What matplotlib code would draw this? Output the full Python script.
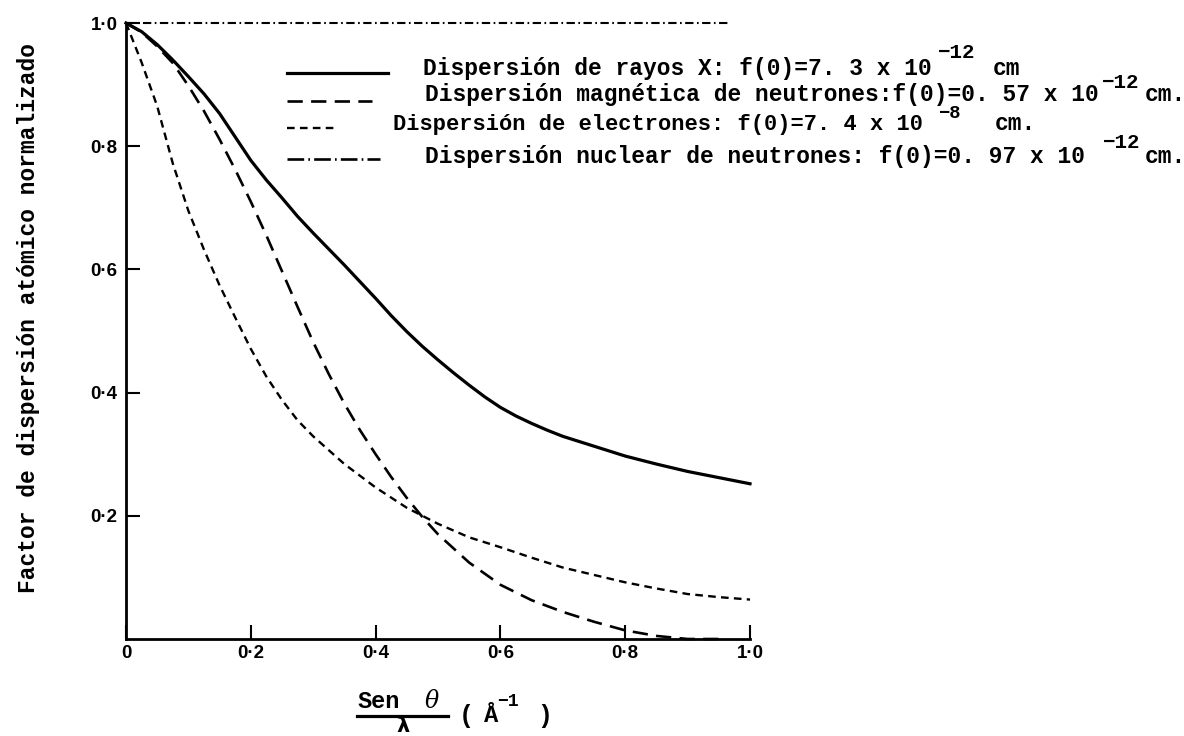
import matplotlib
matplotlib.use("Agg")
import matplotlib.pyplot as plt
from matplotlib.lines import Line2D

# --- data: normalised atomic scattering factor vs sin(theta)/lambda (1/Angstrom) ---
s_rayos = [0.000, 0.025, 0.050, 0.075, 0.100, 0.125, 0.150, 0.175, 0.200, 0.225,
           0.250, 0.275, 0.300, 0.325, 0.350, 0.375, 0.400, 0.425, 0.450, 0.475,
           0.500, 0.525, 0.550, 0.575, 0.600, 0.625, 0.650, 0.675, 0.700, 0.750,
           0.800, 0.850, 0.900, 0.950, 1.000]
f_rayos = [1.000, 0.986, 0.965, 0.940, 0.913, 0.885, 0.853, 0.815, 0.777, 0.745,
           0.716, 0.686, 0.659, 0.633, 0.607, 0.580, 0.553, 0.525, 0.499, 0.475,
           0.453, 0.432, 0.412, 0.393, 0.376, 0.362, 0.350, 0.339, 0.329, 0.313,
           0.297, 0.284, 0.272, 0.262, 0.252]

s_magnetica = [0.000, 0.025, 0.050, 0.075, 0.100, 0.125, 0.150, 0.175, 0.200, 0.225,
               0.250, 0.275, 0.300, 0.325, 0.350, 0.375, 0.400, 0.425, 0.450, 0.475,
               0.500, 0.550, 0.600, 0.650, 0.700, 0.750, 0.800, 0.850, 0.900, 0.950]
f_magnetica = [1.000, 0.985, 0.962, 0.935, 0.898, 0.857, 0.811, 0.762, 0.710, 0.655,
               0.597, 0.539, 0.482, 0.430, 0.382, 0.339, 0.300, 0.263, 0.229, 0.198,
               0.170, 0.124, 0.088, 0.063, 0.044, 0.028, 0.014, 0.005, 0.000, 0.000]

s_electrones = [0.000, 0.025, 0.050, 0.075, 0.100, 0.125, 0.150, 0.175, 0.200, 0.225,
                0.250, 0.275, 0.30, 0.35, 0.40, 0.45, 0.50, 0.55, 0.60, 0.65, 0.70,
                0.75, 0.80, 0.85, 0.90, 0.95, 1.00]
f_electrones = [1.000, 0.936, 0.865, 0.772, 0.695, 0.632, 0.574, 0.522, 0.471, 0.426,
                0.388, 0.355, 0.329, 0.284, 0.246, 0.213, 0.187, 0.165, 0.149, 0.132,
                0.116, 0.104, 0.092, 0.082, 0.073, 0.068, 0.064]

s_nuclear = [0.0, 0.965]
f_nuclear = [1.0, 1.0]

x_ticks = [0.0, 0.2, 0.4, 0.6, 0.8, 1.0]
x_ticklabels = ["0", "0·2", "0·4", "0·6", "0·8", "1·0"]
y_ticks = [0.2, 0.4, 0.6, 0.8, 1.0]
y_ticklabels = ["0·2", "0·4", "0·6", "0·8", "1·0"]

leyenda = ["Dispersión de rayos X: f(0)=7. 3 x 10",
           "Dispersión magnética de neutrones:f(0)=0. 57 x 10",
           "Dispersión de electrones: f(0)=7. 4 x 10",
           "Dispersión nuclear de neutrones: f(0)=0. 97 x 10"]
exponentes = ["−12", "−12", "−8", "−12"]
unidades = ["cm", "cm.", "cm.", "cm."]

# --- styling ---
plt.rcParams['lines.scale_dashes'] = False
MONO = ['Liberation Mono', 'DejaVu Sans Mono']
NARROW = ['Liberation Sans Narrow', 'Liberation Sans', 'DejaVu Sans']

W, H, DPI = 1184, 736, 100


def fx(px):
    return px / W


def fy(py):
    return 1.0 - py / H


styles = {
    'rayos': dict(color='black', lw=2.3, ls='-'),
    'magnetica': dict(color='black', lw=1.9, ls=(0, (11, 6))),
    'electrones': dict(color='black', lw=1.7, ls=(0, (5.5, 3.8))),
    'nuclear': dict(color='black', lw=1.5, ls=(0, (6, 2.5, 1.2, 2.5))),
}

fig = plt.figure(figsize=(W / DPI, H / DPI), dpi=DPI)
ax = fig.add_axes([fx(126), fy(639), 624 / W, 616 / H])

ax.plot(s_rayos, f_rayos, clip_on=False, solid_joinstyle='round', **styles['rayos'])
ax.plot(s_magnetica, f_magnetica, clip_on=False, **styles['magnetica'])
ax.plot(s_electrones, f_electrones, clip_on=False, **styles['electrones'])
ax.plot(s_nuclear, f_nuclear, clip_on=False, **styles['nuclear'])

ax.set_xlim(0, 1.0)
ax.set_ylim(0, 1.0)
for side in ('top', 'right'):
    ax.spines[side].set_visible(False)
for side in ('left', 'bottom'):
    ax.spines[side].set_linewidth(2.0)

ax.set_xticks(x_ticks)
ax.set_xticklabels(x_ticklabels)
ax.set_yticks(y_ticks)
ax.set_yticklabels(y_ticklabels)
ax.tick_params(axis='both', direction='in', length=10, width=1.5, color='black')
ax.tick_params(axis='x', pad=4)
ax.tick_params(axis='y', pad=6)
for lab in ax.get_xticklabels() + ax.get_yticklabels():
    lab.set_family(NARROW)
    lab.set_fontweight('bold')
    lab.set_fontsize(13.5)

# --- key: line samples and descriptions ---
# (style, sample x0, sample x1, sample y, text x, baseline, exp x, exp y, unit x, size, exp size)
key_rows = [
    ('rayos', 287, 388, 72.5, 423, 75, 938, 53, 993, 16.5, 15),
    ('magnetica', 287, 372, 100.5, 425, 101, 1102, 82, 1145, 16.5, 15),
    ('electrones', 287, 338, 128, 393, 130, 938, 114, 995, 15.8, 13.5),
    ('nuclear', 287, 380, 159, 425, 163, 1103, 143, 1145, 16.5, 15),
]
key_styles = dict(styles)
key_styles['nuclear'] = dict(color='black', lw=1.9, ls=(0, (12, 3, 1.2, 3)))
for i, (name, x0, x1, yl, xt, yt, xe, ye, xu, fs, fe) in enumerate(key_rows):
    fig.add_artist(Line2D([fx(x0), fx(x1)], [fy(yl), fy(yl)],
                          transform=fig.transFigure, **key_styles[name]))
    fig.text(fx(xt), fy(yt), leyenda[i], family=MONO, fontweight='bold',
             fontsize=fs, ha='left', va='baseline')
    fig.text(fx(xe), fy(ye), exponentes[i], family=MONO, fontweight='bold',
             fontsize=fe, ha='left', va='center')
    fig.text(fx(xu), fy(yt), unidades[i], family=MONO, fontweight='bold',
             fontsize=16.5, ha='left', va='baseline')

# --- axis titles ---
fig.text(fx(29), fy(318), "Factor de dispersión atómico normalizado",
         family=MONO, fontweight='bold', fontsize=16.5, rotation=90,
         ha='center', va='center')

fig.text(fx(379), fy(702), "Sen", family=MONO, fontweight='bold',
         fontsize=17, ha='center', va='center')
fig.text(fx(432), fy(701), "θ", family=['DejaVu Serif'], style='italic',
         fontsize=17, ha='center', va='center')
fig.add_artist(Line2D([fx(357), fx(448)], [fy(716), fy(716)],
                      transform=fig.transFigure, color='black', lw=2.3))
fig.text(fx(403), fy(726), "λ", family=['DejaVu Sans'], fontweight='bold',
         fontsize=15, ha='center', va='center')
fig.text(fx(466), fy(716), "(", family=MONO, fontweight='bold',
         fontsize=18, ha='center', va='center')
fig.text(fx(491), fy(715), "Å", family=MONO, fontweight='bold',
         fontsize=17, ha='center', va='center')
fig.text(fx(508), fy(702), "−1", family=MONO, fontweight='bold',
         fontsize=13, ha='center', va='center')
fig.text(fx(545), fy(716), ")", family=MONO, fontweight='bold',
         fontsize=18, ha='center', va='center')

fig.savefig("out.png", dpi=DPI, facecolor='white')
